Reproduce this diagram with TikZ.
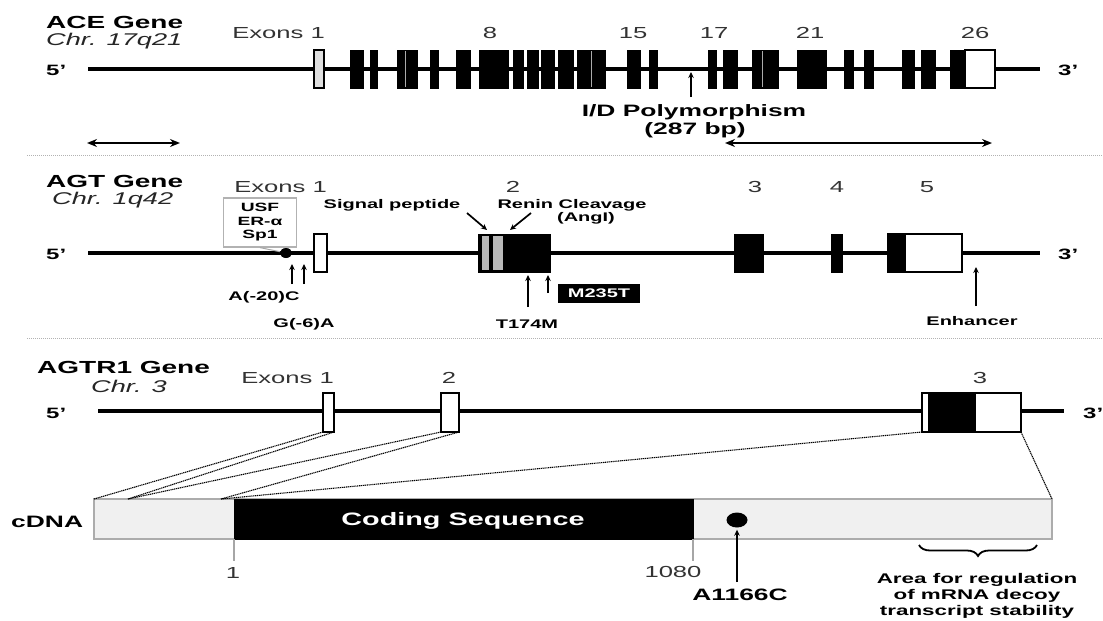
\documentclass[tikz,border=0pt]{standalone}
\usepackage{fontspec}
\setmainfont{Liberation Sans}[FakeStretch=1.6]
\usetikzlibrary{arrows.meta,fit,decorations.pathreplacing,shapes.geometric}
\newcommand\fs[1]{\fontsize{#1}{#1}\selectfont}
\begin{document}
\begin{tikzpicture}[x=1pt,y=-1pt,
  gline/.style={line width=3.2pt},
  exb/.style={fill=black,draw=black,line width=0.6pt,inner sep=0pt,outer sep=0pt},
  exw/.style={fill=white,draw=black,line width=1.3pt,inner sep=0pt,outer sep=0pt},
  ttl/.style={font=\bfseries\fs{17.5},anchor=base west,inner sep=0pt},
  chr/.style={font=\itshape\fs{17},anchor=base west,inner sep=0pt,text=black!85},
  num/.style={font=\fs{16},anchor=base,inner sep=0pt,text=black!80},
  exlbl/.style={font=\fs{16},anchor=base east,inner sep=0pt,text=black!80},
  primelbl/.style={font=\bfseries\fs{15},anchor=base west,inner sep=0pt},
  bl/.style={font=\bfseries\fs{12.5},anchor=base,inner sep=0pt},
  arr/.style={-{Stealth[length=6pt,width=5.5pt]},line width=1.7pt},
  darr/.style={{Stealth[length=10pt,width=8pt]}-{Stealth[length=10pt,width=8pt]},line width=2.6pt},
  sep/.style={gray!60,line width=0.8pt,dash pattern=on 1pt off 1pt},
  dline/.style={line width=1.1pt,dash pattern=on 1.2pt off 0.7pt},
  seam/.style={gray!65,line width=1pt},
]
\useasboundingbox (0,0) rectangle (1103,621);
\clip (0,0) rectangle (1103,621);

% ================= ACE =================
\node[ttl] (acet) at (46,28) {ACE Gene};
\node[chr] (acec) at (46,45) {Chr. 17q21};
\node[exlbl] (acex) at (325,38) {Exons 1};
\node[num] (ace8) at (490,38) {8};
\node[num] (ace15) at (633,38) {15};
\node[num] (ace17) at (714,38) {17};
\node[num] (ace21) at (810,38) {21};
\node[num] (ace26) at (975,38) {26};
\node[primelbl] (ace5l) at (46,75) {5'};
\node[primelbl] (ace3l) at (1058,75) {3'};
\coordinate (ace5) at (88,69);
\coordinate (ace3) at (1040,69);
\draw[gline] (ace5) -- (ace3);
\node[fit={(314,50)(324,88)},fill=gray!25,draw=black,line width=1.5pt,inner sep=0pt,outer sep=0pt] (acee1) {};
\foreach \a/\b [count=\i] in {350/363,370/377,397/417,430/438,456/470,479/508,513/523,527/538,541/554,558/573,577/605,627/640,649/657,708/716,723/737,752/778,797/826,844/853,864/873,902/914,921/935,950/965}
  \node[exb,fit={(\a,50)(\b,88)}] (ace\i) {};
\node[exw,fit={(965,50)(995,88)}] (acew) {};
\draw[seam] (405,51) -- (405,87);
\draw[seam] (591,51) -- (591,87);
\draw[seam] (762,51) -- (762,87);
% I/D polymorphism
\node[font=\bfseries\fs{16.5},anchor=base,inner sep=0pt] (idp) at (694,116) {I/D Polymorphism};
\node[font=\bfseries\fs{16.5},anchor=base,inner sep=0pt] (idbp) at (695,134) {(287 bp)};
\coordinate (idb) at (691,97);
\coordinate (idt) at (691,72);
\draw[arr,line width=1.2pt] (idb) -- (idt);
\coordinate (dal) at (87,143);
\coordinate (dar) at (180,143);
\draw[darr] (dal) -- (dar);
\coordinate (dbl) at (725,143);
\coordinate (dbr) at (992,143);
\draw[darr] (dbl) -- (dbr);
\coordinate (s1a) at (27,155);
\coordinate (s1b) at (1103,155);
\draw[sep] (s1a) -- (s1b);

% ================= AGT =================
\node[ttl] (agtt) at (46,187) {AGT Gene};
\node[chr] (agtc) at (52,204) {Chr. 1q42};
\node[exlbl] (agtx) at (327,192) {Exons 1};
\node[num] (agt2n) at (513,192) {2};
\node[num] (agt3n) at (755,192) {3};
\node[num] (agt4n) at (837,192) {4};
\node[num] (agt5n) at (927,192) {5};
\node[primelbl] (agt5l) at (46,259) {5'};
\node[primelbl] (agt3l) at (1058,259) {3'};
\coordinate (agt5) at (88,253);
\coordinate (agt3) at (1040,253);
\draw[gline] (agt5) -- (agt3);
\node[exw,fit={(314,234)(327,272)}] (agte1) {};
\node[exb,fit={(478,234)(550,272)}] (agte2) {};
\fill[gray!55] (482,236) rectangle (489,270);
\fill[gray!55] (493,236) rectangle (503,270);
\node[exb,fit={(734,234)(763,272)}] (agte3) {};
\node[exb,fit={(831,234)(842,272)}] (agte4) {};
\node[exw,fit={(888,234)(962,272)}] (agte5) {};
\fill[black] (888,234) rectangle (906,272);
% promoter box
\node[draw=gray!60,line width=1.2pt,fill=white,minimum width=73pt,minimum height=49pt,
      align=center,font=\bfseries\fontsize{12}{13.5}\selectfont,inner sep=0pt] (usf) at (260,222.5) {USF\\ER-α\\Sp1};
\node[fill=black,ellipse,minimum width=12pt,minimum height=10pt,inner sep=0pt] (pdot) at (286,253) {};
\draw[gray!70,line width=1pt] (usf.south) -- (pdot);
\coordinate (a20t) at (292,264);
\coordinate (a20b) at (292,284);
\coordinate (g6t) at (304,264);
\coordinate (g6b) at (304,284);
\draw[arr] (a20b) -- (a20t);
\draw[arr] (g6b) -- (g6t);
\node[bl] (a20) at (264,300) {A(-20)C};
\node[bl] (g6) at (304,327) {G(-6)A};
% signal peptide / renin
\node[bl] (sigp) at (392,208) {Signal peptide};
\node[bl] (renin) at (572,208) {Renin Cleavage};
\node[bl] (angi) at (586,221) {(AngI)};
\coordinate (spa) at (467,213);
\coordinate (spb) at (487,230);
\draw[arr] (spa) -- (spb);
\coordinate (rna) at (531,213);
\coordinate (rnb) at (510,230);
\draw[arr] (rna) -- (rnb);
% T174M / M235T
\coordinate (t174b) at (528,307);
\coordinate (t174t) at (528,275);
\draw[arr] (t174b) -- (t174t);
\coordinate (m235b) at (548,293);
\coordinate (m235t) at (548,275);
\draw[arr] (m235b) -- (m235t);
\node[bl] (t174) at (527,328) {T174M};
\node[fill=black,text=white,font=\bfseries\fs{12.5},minimum width=82pt,minimum height=19pt,inner sep=0pt] (m235) at (599,293) {M235T};
% enhancer
\coordinate (enb) at (976,306);
\coordinate (ent) at (976,267);
\draw[arr] (enb) -- (ent);
\node[bl] (enh) at (972,325) {Enhancer};
\coordinate (s2a) at (27,338);
\coordinate (s2b) at (1103,338);
\draw[sep] (s2a) -- (s2b);

% ================= AGTR1 =================
\node[ttl] (atrt) at (37,373) {AGTR1 Gene};
\node[chr] (atrc) at (91,392) {Chr. 3};
\node[exlbl] (atrx) at (334,383) {Exons 1};
\node[num] (atr2n) at (449,383) {2};
\node[num] (atr3n) at (980,383) {3};
\node[primelbl] (atr5l) at (46,418) {5'};
\node[primelbl] (atr3l) at (1083,418) {3'};
\coordinate (atr5) at (98,411);
\coordinate (atr3) at (1064,411);
\draw[gline] (atr5) -- (atr3);
\node[exw,fit={(323,393)(334,432)}] (r1) {};
\node[exw,fit={(441,393)(459,432)}] (r2) {};
\node[exw,fit={(922,393)(1021,432)}] (r3) {};
\fill[black] (928,394) rectangle (976,431);

% ================= cDNA =================
\node[fit={(94,499)(1052,539)},fill=gray!12,draw=gray!65,line width=1.2pt,inner sep=0pt,outer sep=0pt] (cdna) {};
\node[fit={(234,499)(693,539)},fill=black,draw=black,inner sep=0pt,outer sep=0pt] (cds) {};
\node[text=white,font=\bfseries\fs{18},inner sep=0pt] (cdst) at (463,521) {Coding Sequence};
\node[font=\bfseries\fs{16.5},anchor=base west,inner sep=0pt] (cdnal) at (11,527) {cDNA};
\coordinate (p1) at (128,499);
\coordinate (p2) at (221,499);
\draw[dline] (r1.south west) -- (cdna.north west);
\draw[dline] (r1.south east) -- (p1);
\draw[dline] (r2.south west) -- (p1);
\draw[dline] (r2.south east) -- (p2);
\draw[dline] (r3.south west) -- (p2);
\draw[dline] (r3.south east) -- (cdna.north east);
% ticks
\coordinate (tk1) at (234,561);
\coordinate (tk2) at (693,561);
\draw[gray!70,line width=1.2pt] (cds.south west) -- (tk1);
\draw[gray!70,line width=1.2pt] (cds.south east) -- (tk2);
\node[num] (n1) at (233,578) {1};
\node[num] (n1080) at (673,577) {1080};
% SNP
\node[fill=black,ellipse,minimum width=21pt,minimum height=15pt,inner sep=0pt] (snp) at (737,520) {};
\coordinate (snpb) at (737,582);
\draw[arr,line width=1.8pt,shorten >=2pt] (snpb) -- (snp.south);
\node[font=\bfseries\fs{16.5},anchor=base,inner sep=0pt] (a1166) at (740,600) {A1166C};
% brace
\coordinate (br1) at (1037,545);
\coordinate (br2) at (919,545);
\draw[line width=1.8pt,decorate,decoration={brace,amplitude=11pt}] (br1) -- (br2);
\node[font=\bfseries\fontsize{14}{16}\selectfont,align=center,anchor=north,inner sep=0pt] (area) at (977,573) {Area for regulation\\of mRNA decoy\\transcript stability};
\end{tikzpicture}
\end{document}
